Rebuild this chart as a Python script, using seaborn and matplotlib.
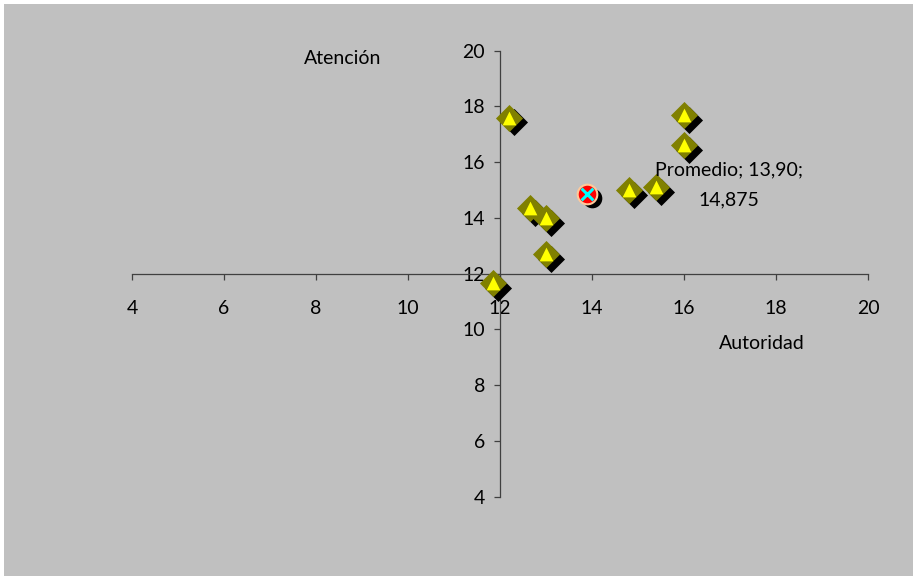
import matplotlib
matplotlib.use("Agg")
import matplotlib.pyplot as plt
import matplotlib.transforms as mtransforms
from matplotlib.patches import Rectangle
import seaborn as sns

# Scores per group: authority (x) vs. attention (y)
autoridad = [12.2, 12.65, 13.0, 13.0, 11.85, 16.0, 16.0, 14.8, 15.4]
atencion = [17.6, 14.35, 14.0, 12.7, 11.65, 17.7, 16.6, 15.0, 15.1]

# Mean point
promedio_x = 13.90
promedio_y = 14.875

ticks = [4, 6, 8, 10, 12, 14, 16, 18, 20]

sns.set_theme(style="white")
plt.rcParams["font.family"] = ["Lato", "DejaVu Sans"]
plt.rcParams["text.color"] = "black"
plt.rcParams["axes.labelcolor"] = "black"

W, H = 913, 576
fig = plt.figure(figsize=(W / 100, H / 100), dpi=100, facecolor="white")
fig.patches.append(Rectangle((4 / W, 0), 1 - 4 / W, 1 - 4 / H, transform=fig.transFigure,
                             facecolor="#c0c0c0", edgecolor="none", zorder=-10))

ax = fig.add_axes([132 / W, 1 - 496.7 / H, 736 / W, 446 / H])
ax.set_facecolor("none")

# drop shadow offset (points)
shadow = ax.transData + mtransforms.ScaledTranslation(3.4 / 72, -3.4 / 72, fig.dpi_scale_trans)

sns.scatterplot(x=autoridad, y=atencion, marker="D", s=190, color="black",
                linewidth=0, transform=shadow, ax=ax, zorder=3)
sns.scatterplot(x=autoridad, y=atencion, marker="D", s=190, color="#808000",
                linewidth=0, ax=ax, zorder=4)
sns.scatterplot(x=autoridad, y=atencion, marker="^", s=98, color="#ffff00",
                linewidth=0, ax=ax, zorder=5)

# mean marker
sns.scatterplot(x=[promedio_x], y=[promedio_y], marker="o", s=200, color="black",
                linewidth=0, transform=shadow, ax=ax, zorder=6)
sns.scatterplot(x=[promedio_x], y=[promedio_y], marker="o", s=200, color="#ff0000",
                edgecolor="#ffc99a", linewidth=1.5, ax=ax, zorder=7)
ax.scatter([promedio_x], [promedio_y], marker="x", s=72, color="#00ffff",
           linewidths=2.2, zorder=8)

etiqueta = f"Promedio; {promedio_x:.2f};\n{promedio_y:.3f}".replace(".", ",")
ax.annotate(etiqueta, xy=(promedio_x, promedio_y), xytext=(102, 6.5),
            textcoords="offset points", ha="center", va="center",
            multialignment="center", fontsize=14, linespacing=1.95, zorder=9)

ax.set_xlim(4, 20)
ax.set_ylim(4, 20)
ax.set_xticks(ticks)
ax.set_yticks(ticks)

for side in ("top", "right"):
    ax.spines[side].set_visible(False)
for side in ("left", "bottom"):
    ax.spines[side].set_position(("data", 12))
    ax.spines[side].set_color("#404040")
    ax.spines[side].set_linewidth(0.9)
    ax.spines[side].set_zorder(2)

ax.tick_params(axis="both", which="major", direction="out", length=4.3, width=0.9,
               color="#404040", labelsize=14, labelcolor="black",
               bottom=True, left=True)
ax.tick_params(axis="x", pad=14.5)
ax.tick_params(axis="y", pad=6.5)
ax.grid(False)

ax.set_xlabel("Autoridad", fontsize=14)
ax.xaxis.set_label_coords(0.856, 0.3446)
ax.xaxis.label.set_va("center")
ax.set_ylabel("Atención", fontsize=14, rotation=0)
ax.yaxis.set_label_coords(0.2867, 0.9836)
ax.yaxis.label.set_va("center")
ax.yaxis.label.set_ha("center")

fig.savefig("out.png", dpi=100, facecolor="white")
